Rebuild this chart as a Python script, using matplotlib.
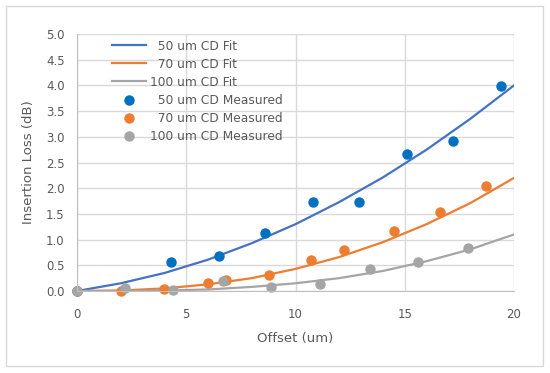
import matplotlib
matplotlib.use('Agg')
import matplotlib.pyplot as plt
from matplotlib.patches import Rectangle

# fitted curves at x = 0, 2, ..., 20
fit_x = [0, 2, 4, 6, 8, 10, 12, 14, 16, 18, 20]
fit_50 = [0.0, 0.15, 0.35, 0.61, 0.93, 1.30, 1.73, 2.21, 2.75, 3.35, 4.00]
fit_70 = [0.0, 0.01, 0.05, 0.13, 0.25, 0.43, 0.66, 0.95, 1.30, 1.71, 2.20]
fit_100 = [0.0, 0.0, 0.01, 0.03, 0.08, 0.15, 0.25, 0.39, 0.58, 0.81, 1.10]

# measured points
x_50 = [0.0, 4.3, 6.5, 8.6, 10.8, 12.9, 15.1, 17.2, 19.4]
y_50 = [0.0, 0.56, 0.69, 1.12, 1.74, 1.74, 2.66, 2.92, 3.98]
x_70 = [0.0, 2.0, 4.0, 6.0, 6.8, 8.8, 10.7, 12.2, 14.5, 16.6, 18.7]
y_70 = [0.0, 0.0, 0.03, 0.15, 0.21, 0.31, 0.60, 0.80, 1.17, 1.54, 2.05]
x_100 = [0.0, 2.2, 4.4, 6.7, 8.9, 11.1, 13.4, 15.6, 17.9]
y_100 = [0.0, 0.05, 0.01, 0.19, 0.08, 0.14, 0.43, 0.57, 0.84]

txt = '#595959'
fig = plt.figure(figsize=(5.5, 3.73), dpi=100)
fig.patches.append(Rectangle((6/550, 1-366/373), 537/550, 360/373, transform=fig.transFigure,
                             fill=False, edgecolor='#d9d9d9', lw=1))
ax = fig.add_axes([77/550, 1-291/373, 437/550, 257/373])

ax.plot(fit_x, fit_50, color='#4472C4', lw=1.6, label='  50 um CD Fit')
ax.plot(fit_x, fit_70, color='#ED7D31', lw=1.6, label='  70 um CD Fit')
ax.plot(fit_x, fit_100, color='#A5A5A5', lw=1.6, label='100 um CD Fit')
ax.plot(x_50, y_50, 'o', color='#0070C0', ms=6.5, clip_on=False, label='  50 um CD Measured')
ax.plot(x_70, y_70, 'o', color='#ED7D31', ms=6.5, clip_on=False, label='  70 um CD Measured')
ax.plot(x_100, y_100, 'o', color='#A5A5A5', ms=6.5, clip_on=False, label='100 um CD Measured')

ax.set_xlim(0, 20)
ax.set_ylim(0, 5)
ax.set_xticks([0, 5, 10, 15, 20])
ax.set_yticks([i * 0.5 for i in range(11)])
ax.set_yticklabels(['%.1f' % (i * 0.5) for i in range(11)])
ax.grid(True, color='#d9d9d9', lw=1)
ax.set_axisbelow(True)
for s in ['top', 'right']:
    ax.spines[s].set_visible(False)
for s in ['left', 'bottom']:
    ax.spines[s].set_color('#bfbfbf')
ax.tick_params(length=0, labelsize=8.5, colors=txt)
ax.tick_params(axis='x', pad=12)
ax.tick_params(axis='y', pad=9)
ax.set_xlabel('Offset (um)', fontsize=9.5, color=txt, labelpad=8)
ax.set_ylabel('Insertion Loss (dB)', fontsize=9.5, color=txt, labelpad=8)

leg = ax.legend(loc='upper left', bbox_to_anchor=(112/550, 1-39.5/373), bbox_transform=fig.transFigure,
                frameon=False, fontsize=8.8, handlelength=2.8, handletextpad=0.3,
                labelspacing=0.42, borderpad=0, borderaxespad=0)
for t in leg.get_texts():
    t.set_color(txt)

fig.savefig('out.png', dpi=100)
